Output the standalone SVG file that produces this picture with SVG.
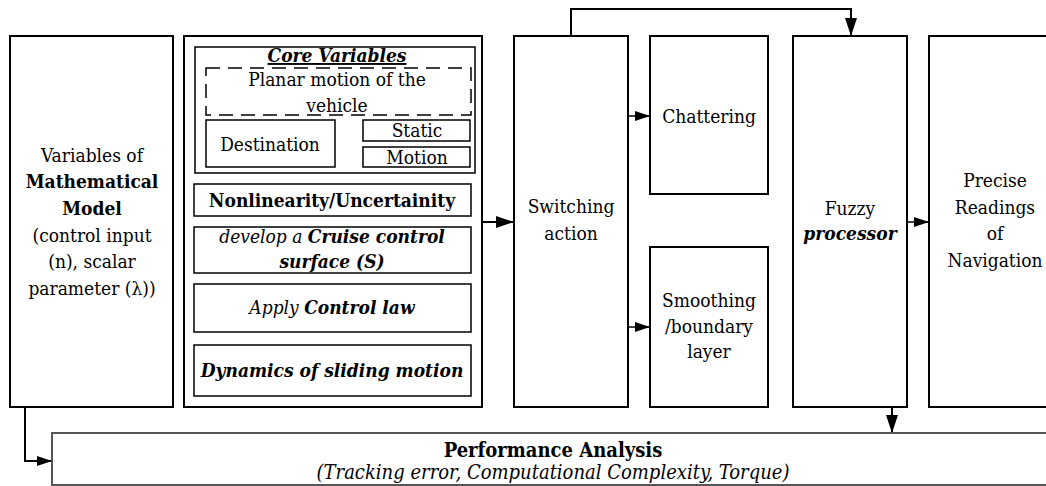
<svg xmlns="http://www.w3.org/2000/svg" width="1046" height="486" viewBox="0 0 1046 486">
<style>
text{font-family:"DejaVu Serif Condensed","DejaVu Serif",serif;font-size:19px;fill:#000;text-anchor:middle}
.b{font-weight:bold}
.i{font-style:italic}
.p{font-size:20px}
.outer{fill:#fff;stroke:#000;stroke-width:2}
.inner{fill:#fff;stroke:#000;stroke-width:1.5}
.dash{fill:none;stroke:#000;stroke-width:1.5;stroke-dasharray:14 8}
.perf{fill:#fff;stroke:#555;stroke-width:2}
.conn{fill:none;stroke:#000;stroke-width:2}
.thin{fill:none;stroke:#000;stroke-width:1.5}
</style>
<defs>
<marker id="big" markerUnits="userSpaceOnUse" markerWidth="20" markerHeight="14" refX="18" refY="6" orient="auto"><path d="M0,0 L18,6 L0,12 Z" fill="#000"/></marker>
<marker id="small" markerUnits="userSpaceOnUse" markerWidth="16" markerHeight="12" refX="15" refY="5" orient="auto"><path d="M0,0 L15,5 L0,10 Z" fill="#000"/></marker>
</defs>
<rect width="1046" height="486" fill="#fff"/>

<g id="connectors">
<path class="conn" d="M571,36 V9 H851 V36" marker-end="url(#big)"/>
<path class="conn" d="M482,222 H514" marker-end="url(#big)"/>
<path class="thin" d="M628,116 H650" marker-end="url(#small)"/>
<path class="thin" d="M628,327 H650" marker-end="url(#small)"/>
<path class="thin" d="M907,222 H929" marker-end="url(#small)"/>
<path class="conn" d="M892,407 V433" marker-end="url(#big)"/>
<path class="conn" d="M25,407 V461 H52" marker-end="url(#small)"/>
<path class="thin" d="M336,147 L363,131" marker-end="url(#small)"/>
<path class="thin" d="M336,147 L363,157" marker-end="url(#small)"/>
</g>

<g id="mathematical-model">
<rect class="outer" x="10" y="36" width="163" height="371"/>
<text x="92" y="162">Variables of</text>
<text x="92" y="188" class="b">Mathematical</text>
<text x="92" y="215" class="b">Model</text>
<text x="92" y="242">(control input</text>
<text x="92" y="268">(n), scalar</text>
<text x="92" y="295">parameter (λ))</text>
</g>

<g id="smc-block">
<rect class="outer" x="184" y="36" width="298" height="371"/>
</g>

<g id="core-variables">
<rect class="inner" x="195" y="47" width="280" height="126"/>
<text x="337" y="62" class="b i" text-decoration="underline">Core Variables</text>
</g>

<g id="planar-motion">
<rect class="dash" x="206" y="68" width="265" height="47"/>
<text x="337" y="86">Planar motion of the</text>
<text x="337" y="112">vehicle</text>
</g>

<g id="destination">
<rect class="inner" x="206" y="120" width="129" height="47"/>
<text x="270" y="151">Destination</text>
</g>

<g id="static">
<rect class="inner" x="363" y="120" width="107" height="21"/>
<text x="417" y="137">Static</text>
</g>

<g id="motion">
<rect class="inner" x="363" y="147" width="107" height="20"/>
<text x="417" y="164">Motion</text>
</g>

<g id="nonlinearity">
<rect class="inner" x="194" y="184" width="277" height="32"/>
<text x="332" y="207" class="b">Nonlinearity/Uncertainity</text>
</g>

<g id="cruise-surface">
<rect class="inner" x="194" y="227" width="277" height="46"/>
<text x="332" y="243"><tspan class="i">develop a </tspan><tspan class="b i">Cruise control</tspan></text>
<text x="332" y="268" class="b i">surface (S)</text>
</g>

<g id="control-law">
<rect class="inner" x="194" y="284" width="277" height="48"/>
<text x="332" y="314"><tspan class="i">Apply </tspan><tspan class="b i">Control law</tspan></text>
</g>

<g id="sliding-dynamics">
<rect class="inner" x="194" y="345" width="277" height="51"/>
<text x="332" y="377" class="b i">Dynamics of sliding motion</text>
</g>

<g id="switching-action">
<rect class="outer" x="514" y="36" width="114" height="371"/>
<text x="571" y="213">Switching</text>
<text x="571" y="240">action</text>
</g>

<g id="chattering">
<rect class="outer" x="650" y="36" width="118" height="158"/>
<text x="709" y="123">Chattering</text>
</g>

<g id="smoothing">
<rect class="outer" x="650" y="247" width="118" height="160"/>
<text x="709" y="307">Smoothing</text>
<text x="709" y="333">/boundary</text>
<text x="709" y="358">layer</text>
</g>

<g id="fuzzy-processor">
<rect class="outer" x="793" y="36" width="114" height="371"/>
<text x="850" y="215">Fuzzy</text>
<text x="850" y="240" class="b i">processor</text>
</g>

<g id="precise-readings">
<rect class="outer" x="929" y="36" width="131" height="371"/>
<text x="995" y="187">Precise</text>
<text x="995" y="214">Readings</text>
<text x="995" y="240">of</text>
<text x="995" y="267">Navigation</text>
</g>

<g id="performance-analysis">
<rect class="perf" x="52" y="433" width="1003" height="52"/>
<text x="553" y="457" class="b p">Performance Analysis</text>
<text x="553" y="479" class="i p">(Tracking error, Computational Complexity, Torque)</text>
</g>
</svg>
